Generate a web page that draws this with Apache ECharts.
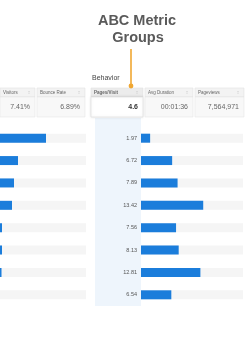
<!DOCTYPE html>
<html><head><meta charset="utf-8">
<script src="https://cdn.jsdelivr.net/npm/echarts@6/dist/echarts.min.js"></script>
<style>html,body{margin:0;padding:0;background:#fff}#c{width:248px;height:340px}</style>
</head><body><div id="c"></div>
<script>
// ---- data ----
var titleLines = ['ABC Metric', 'Groups'];
var groupLabel = 'Behavior';
var headerNames = ['Visitors', 'Bounce Rate', 'Pages/Visit', 'Avg Duration', 'Pageviews'];
var headerValues = ['7.41%', '6.89%', '4.6', '00:01:36', '7,564,971'];
var pagesPerVisit = [1.97, 6.72, 7.89, 13.42, 7.56, 8.13, 12.81, 6.54];
var pagesPerVisitLabels = ['1.97', '6.72', '7.89', '13.42', '7.56', '8.13', '12.81', '6.54'];
var leftBars = [46, 18, 14, 12, 2, 2, 1.5, 0];
var rowIds = ['r1', 'r2', 'r3', 'r4', 'r5', 'r6', 'r7', 'r8'];

// ---- layout ----
var FONT = 'Liberation Sans, Arial, sans-serif';
var cells = [[0, 35], [37, 85], [91, 143], [145, 193], [195, 244]];
var headTop = 88, headH = 9, valH = 20;
var g = [];
// highlighted column background
g.push({type: 'rect', shape: {x: 95, y: 118, width: 46, height: 188}, style: {fill: '#eef5fc'}, z: -10});
cells.forEach(function (c, i) {
  var w = c[1] - c[0];
  var hl = i === 2;
  g.push({type: 'rect', shape: {x: c[0], y: headTop, width: w, height: headH},
    style: {fill: hl ? '#ececec' : '#f3f3f3', stroke: '#e2e2e2', lineWidth: 0.6}});
  g.push({type: 'rect', shape: {x: c[0], y: headTop + headH, width: w, height: valH},
    style: {fill: hl ? '#ffffff' : '#f8f8f8', stroke: hl ? '#dcdcdc' : '#e6e6e6', lineWidth: 0.6,
      shadowBlur: hl ? 3 : 0, shadowColor: 'rgba(0,0,0,0.12)'}});
  g.push({type: 'text', x: c[0] + 3, y: headTop + headH / 2,
    style: {text: headerNames[i], fontSize: 4.5, fontFamily: FONT, fontWeight: hl ? 'bold' : 'normal',
      fill: '#666', textVerticalAlign: 'middle', verticalAlign: 'middle'}});
  g.push({type: 'text', x: c[1] - 6, y: headTop + headH / 2,
    style: {text: '\u2195', fontSize: 5, fontFamily: FONT, fill: '#c4c4c4', align: 'center', verticalAlign: 'middle'}});
  g.push({type: 'text', x: c[1] - 5, y: headTop + headH + valH / 2,
    style: {text: headerValues[i], fontSize: 7, fontFamily: FONT, fontWeight: hl ? 'bold' : 'normal',
      fill: hl ? '#333' : '#666', align: 'right', verticalAlign: 'middle'}});
});
// title
g.push({type: 'text', x: 137, y: 21, style: {text: titleLines[0], fontSize: 14.5, fontWeight: 'bold', fontFamily: FONT, fill: '#5a5a5a', align: 'center', verticalAlign: 'middle'}});
g.push({type: 'text', x: 138, y: 38, style: {text: titleLines[1], fontSize: 14.5, fontWeight: 'bold', fontFamily: FONT, fill: '#5a5a5a', align: 'center', verticalAlign: 'middle'}});
// connector
g.push({type: 'line', shape: {x1: 131, y1: 49, x2: 131, y2: 85}, style: {stroke: '#f0a732', lineWidth: 1.6}});
g.push({type: 'circle', shape: {cx: 131, cy: 86, r: 2.4}, style: {fill: '#f0a732'}, z: 10});
g.push({type: 'text', x: 92, y: 78, style: {text: groupLabel, fontSize: 7, fontFamily: FONT, fill: '#444', verticalAlign: 'middle'}});

var chart = echarts.init(document.getElementById('c'), null, {renderer: 'canvas'});
chart.setOption({
  animation: false,
  graphic: g,
  grid: [
    {left: 0, width: 86, top: 127, height: 179},
    {left: 141, width: 102, top: 127, height: 179}
  ],
  xAxis: [
    {gridIndex: 0, type: 'value', min: 0, max: 86, show: false},
    {gridIndex: 1, type: 'value', min: 0, max: 22, show: false}
  ],
  yAxis: [
    {gridIndex: 0, type: 'category', data: rowIds, inverse: true, show: false},
    {gridIndex: 1, type: 'category', data: pagesPerVisitLabels, inverse: true,
      axisLine: {show: false}, axisTick: {show: false}, splitLine: {show: false},
      axisLabel: {fontSize: 5.5, color: '#555', fontFamily: FONT, margin: 4}}
  ],
  series: [
    {type: 'bar', xAxisIndex: 0, yAxisIndex: 0, data: leftBars, barWidth: 9,
      itemStyle: {color: '#1b7ddb'}, showBackground: true, backgroundStyle: {color: '#f5f5f5'}},
    {type: 'bar', xAxisIndex: 1, yAxisIndex: 1, data: pagesPerVisit, barWidth: 9,
      itemStyle: {color: '#1b7ddb'}, showBackground: true, backgroundStyle: {color: '#f5f5f5'}}
  ]
});
</script></body></html>
